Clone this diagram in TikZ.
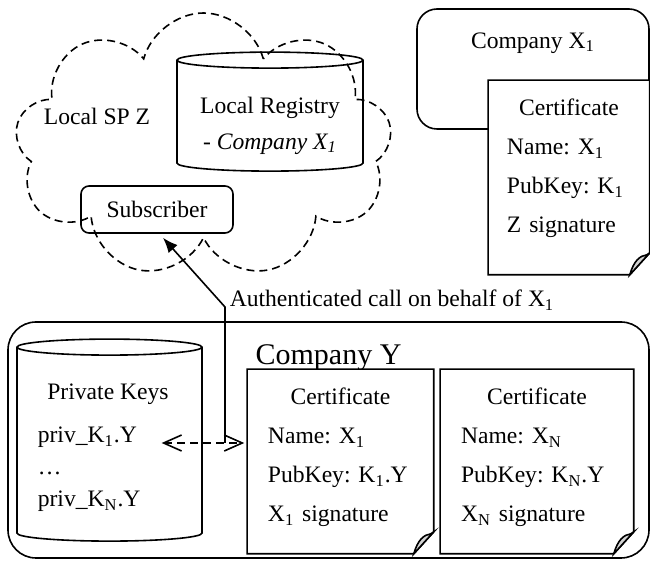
\documentclass[tikz,border=0pt]{standalone}
\usepackage{fontspec}
\setmainfont{Liberation Serif}
\usetikzlibrary{arrows.meta}
\usetikzlibrary{shapes.geometric}
\usetikzlibrary{shapes.symbols}
\usetikzlibrary{positioning}
\usetikzlibrary{calc}
\tikzset{
  % filled arrow tip for the call
  >={Latex[length=7.5pt,width=6pt]},
  % plain text, no padding
  txt/.style={inner sep=0pt}
}
% outline of a certificate sheet with a curled corner
\newcommand{\drawdoc}[1]{%
  \draw[fill=white] (#1.north west) -- (#1.north east) -- ([yshift=11pt]#1.south east)
    -- ([xshift=-10pt]#1.south east) -- (#1.south west) -- cycle;
  \draw[fill=gray!35] ([xshift=-10pt]#1.south east)
    .. controls ([xshift=-8pt,yshift=7pt]#1.south east) and ([xshift=-5pt,yshift=9.5pt]#1.south east)
    .. ([xshift=-1.5pt,yshift=10pt]#1.south east) -- ([yshift=11pt]#1.south east) -- cycle;
}

\begin{document}
\begin{tikzpicture}[x=0.5pt, y=-0.5pt, line width=0.8pt, font=\fontsize{11.8pt}{19.5pt}\selectfont\frenchspacing]
    % Define styles
    \tikzstyle{dbase} = [draw, shape=cylinder, shape border rotate=90, aspect=1.2]
    \tikzstyle{spcloud} = [draw, dash pattern=on 4pt off 2.5pt, shape=cloud, cloud puffs=9, cloud puff arc=150, cloud ignores aspect]
    \tikzstyle{doc} = [rectangle, inner sep=0pt]
    \tikzstyle{certtext} = [txt, align=left, anchor=north]
    \tikzstyle{line} = [draw, ->]
    \tikzstyle{keyline} = [draw, dash pattern=on 4pt off 2.5pt, {Straight Barb[length=9pt,width=8pt]}-{Straight Barb[length=9pt,width=8pt]}]
    \useasboundingbox (0,0) rectangle (650,561);

    % Place nodes
    \node [spcloud, minimum width=188.5pt, minimum height=132.5pt] (spz) at (203.5,145.5) {};
    \node [txt, anchor=base] (spzlbl) at (97,125) {Local SP Z};
    \node [dbase, minimum width=93pt, minimum height=59.5pt] (reg) at (270,117.5) {};
    \node [txt, align=center, anchor=north] (reglbl) at (270,96) {Local Registry\\[-1.5pt]- \textit{Company X\textsubscript{1}}};
    \node [draw, rounded corners=4pt, minimum width=76pt, minimum height=23.5pt] (sub) at (157,209.5) {Subscriber};

    \node [draw, rounded corners=10pt, minimum width=116pt, minimum height=60pt] (cx1) at (533,69) {};
    \node [txt, anchor=base] (cx1lbl) at ([yshift=-20pt]cx1.north) {Company X\textsubscript{1}};
    \node [doc, minimum width=80pt, minimum height=96.5pt] (certx) at (569,177.5) {};
    \drawdoc{certx}
    \node [certtext, text width=62pt] (certxtxt) at ([yshift=-9pt]certx.north)
        {\makebox[\linewidth]{Certificate}\\Name: X\textsubscript{1}\\PubKey: K\textsubscript{1}\\Z signature};

    \node [draw, rounded corners=14pt, minimum width=320.5pt, minimum height=118pt] (cy) at (328.5,440) {};
    \node [txt, anchor=base, font=\fontsize{15pt}{18pt}\selectfont] (cylbl) at ([yshift=-21.5pt]cy.north) {Company Y};
    \node [dbase, minimum width=92.5pt, minimum height=101pt] (keys) at (109.5,446) {};
    \node [txt, anchor=base] (keystitle) at (108,400) {Private Keys};
    \node [txt, anchor=base west] (k1) at (37,443) {priv\_K\textsubscript{1}.Y};
    \node [txt, anchor=base west] (kdots) at (37,475) {\dots};
    \node [txt, anchor=base west] (kn) at (37,507) {priv\_K\textsubscript{N}.Y};

    \node [doc, minimum width=92.5pt, minimum height=91.5pt] (cert1) at (340.5,461.5) {};
    \drawdoc{cert1}
    \node [certtext, text width=72.5pt] (cert1txt) at ([yshift=-9pt]cert1.north)
        {\makebox[\linewidth]{Certificate}\\Name: X\textsubscript{1}\\PubKey: K\textsubscript{1}.Y\\X\textsubscript{1} signature};
    \node [doc, minimum width=96pt, minimum height=91.5pt] (certn) at (537,461.5) {};
    \drawdoc{certn}
    \node [certtext, text width=76pt] (certntxt) at ([yshift=-9pt]certn.north)
        {\makebox[\linewidth]{Certificate}\\Name: X\textsubscript{N}\\PubKey: K\textsubscript{N}.Y\\X\textsubscript{N} signature};

    % Draw edges
    \coordinate (junc) at (225,443);
    \coordinate (bend) at (225,307);
    \path [keyline] ([xshift=12pt]k1.base east) -- ([xshift=-1.5pt]k1.base east -| cert1.west);
    \path [line] (junc) -- (bend)
        node [txt, anchor=base west, xshift=2pt] {Authenticated call on behalf of X\textsubscript{1}}
        -- ([xshift=3pt,yshift=-2pt]sub.south);
\end{tikzpicture}
\end{document}
